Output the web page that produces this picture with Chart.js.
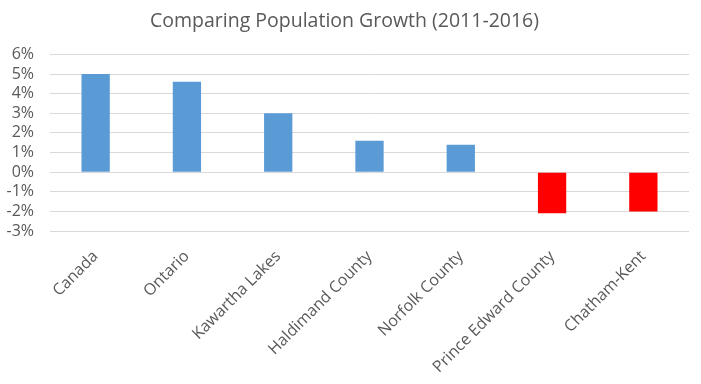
<!DOCTYPE html>
<html>
<head>
<meta charset="utf-8">
<script src="https://cdn.jsdelivr.net/npm/chart.js@4"></script>
<style>
  html, body { margin: 0; padding: 0; background: #fff; }
  #wrap { width: 701px; height: 384px; }
</style>
</head>
<body>
<div id="wrap"><canvas id="growthChart" width="701" height="384"></canvas></div>
<script>
const regions = ['Canada', 'Ontario', 'Kawartha Lakes', 'Haldimand County', 'Norfolk County', 'Prince Edward County', 'Chatham-Kent'];
const growth = [5.0, 4.6, 3.0, 1.6, 1.4, -2.1, -2.0];
const yTicks = [-3, -2, -1, 0, 1, 2, 3, 4, 5, 6];

const barColors = growth.map(v => v < 0 ? '#ff0000' : '#5b9bd5');
const fontFamily = '"Open Sans", "Liberation Sans", sans-serif';

new Chart(document.getElementById('growthChart'), {
    type: 'bar',
    data: {
        labels: regions,
        datasets: [{
            label: 'Growth',
            data: growth,
            backgroundColor: barColors,
            borderWidth: 0,
            barPercentage: 0.31,
            categoryPercentage: 1.0,
        }]
    },
    options: {
        responsive: false,
        animation: false,
        layout: { padding: { left: 0, right: 12, top: 10, bottom: 0 } },
        plugins: {
            legend: { display: false },
            tooltip: { enabled: false },
            title: {
                display: true,
                text: 'Comparing Population Growth (2011-2016)',
                color: '#595959',
                font: { family: fontFamily, size: 19.5, weight: 'normal' },
                padding: { top: 0, bottom: 21 },
            }
        },
        scales: {
            y: {
                min: yTicks[0],
                max: yTicks[yTicks.length - 1],
                afterBuildTicks: (scale) => { scale.ticks = yTicks.map(v => ({ value: v })); },
                afterFit: (scale) => { scale.width = 50; },
                grid: { color: '#d9d9d9', lineWidth: 1, drawTicks: false },
                border: { display: false },
                ticks: {
                    color: '#595959',
                    padding: 16,
                    autoSkip: false,
                    font: { family: fontFamily, size: 16 },
                    callback: (value) => value + '%'
                }
            },
            x: {
                afterFit: (scale) => { scale.height = 153; },
                grid: { display: false },
                border: { display: false },
                ticks: {
                    color: '#595959',
                    padding: 8,
                    font: { family: fontFamily, size: 16 },
                    autoSkip: false,
                    maxRotation: 45,
                    minRotation: 45
                }
            }
        }
    }
});
</script>
</body>
</html>
